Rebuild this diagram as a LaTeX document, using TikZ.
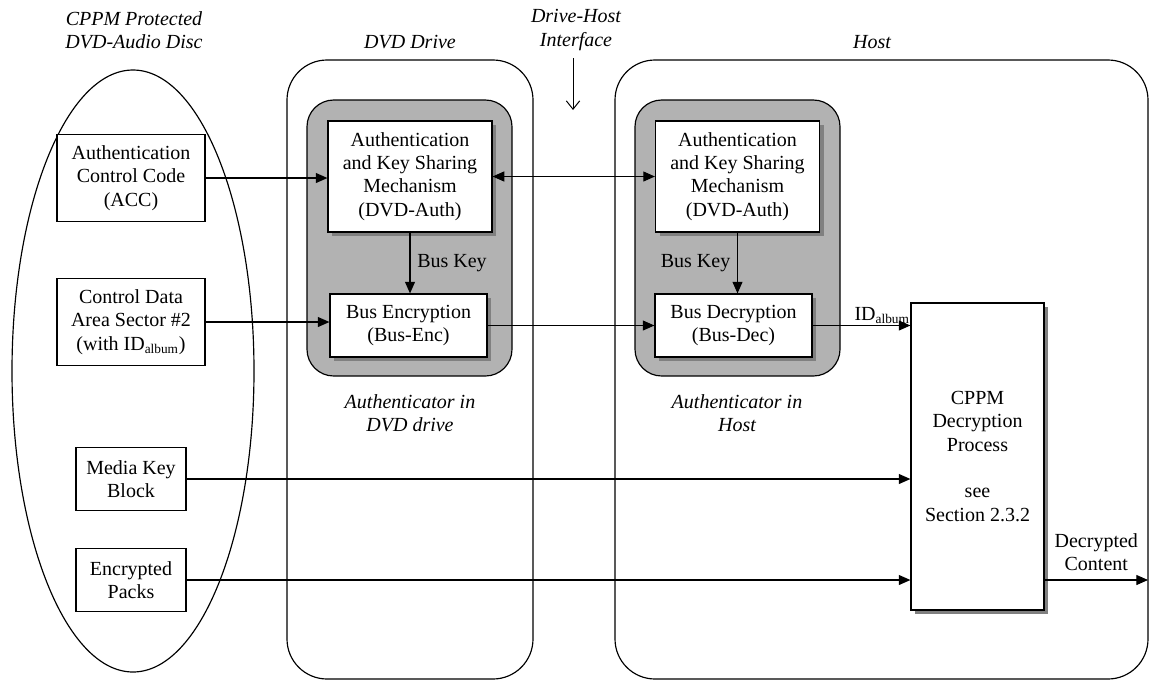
\documentclass[tikz,border=0pt]{standalone}
\usepackage{fontspec}
\setmainfont{Liberation Serif}
\usetikzlibrary{shapes.geometric,arrows.meta,shadows}

\begin{document}
\begin{tikzpicture}[x=0.6pt, y=-0.6pt,
  every node/.style={font=\fontsize{12}{14}\selectfont, inner sep=0pt, align=center},
  heading/.style={font=\fontsize{12}{14}\selectfont\itshape},
  disc/.style={draw, line width=0.7pt, ellipse, minimum width=145.2pt, minimum height=361.2pt},
  zone/.style={draw, line width=0.7pt, rounded corners=24pt, minimum height=371.4pt},
  auth/.style={draw, line width=0.7pt, fill=gray!60, rounded corners=16pt, minimum width=123pt, minimum height=165.6pt},
  box/.style={draw, line width=0.7pt, fill=white},
  sbox/.style={box, drop shadow={shadow xshift=2.6pt, shadow yshift=-2.6pt, fill=black!50, opacity=1}},
  arr/.style={line width=0.7pt, -{Triangle[length=7pt, width=6pt]}},
  dbl/.style={line width=0.7pt, {Triangle[length=7pt, width=6pt]}-{Triangle[length=7pt, width=6pt]}},
  ifarr/.style={line width=0.6pt, -{Straight Barb[length=5pt, width=8pt]}}
]
\useasboundingbox (0,0) rectangle (1150,681);

\node[disc] (disc) at (133,371) {};
\node[heading] (disctitle) at (134,30) {CPPM Protected\\DVD-Audio Disc};
\node[zone, minimum width=147.6pt] (drive) at (410,369.5) {};
\node[heading] (drivetitle) at (410,42) {DVD Drive};
\node[zone, minimum width=319.8pt] (host) at (881.5,369.5) {};
\node[heading] (hosttitle) at (872,42) {Host};
\node[heading] (iftitle) at (576,30) {Drive-Host\\Interface};
\coordinate (iftop) at (573,58);
\coordinate (ifbot) at (573,110);

\node[auth] (drivegray) at (409.5,238) {};
\node[auth] (hostgray) at (737.5,238) {};
\node[sbox, minimum width=98.4pt, minimum height=66.6pt] (driveauth) at (410,176.5) {Authentication\\and Key Sharing\\Mechanism\\(DVD-Auth)};
\node[sbox, minimum width=98.4pt, minimum height=66.6pt] (hostauth) at (737.5,176.5) {Authentication\\and Key Sharing\\Mechanism\\(DVD-Auth)};
\node[sbox, minimum width=94.2pt, minimum height=37.8pt] (busenc) at (408.5,325.5) {Bus Encryption\\(Bus-Enc)};
\node[sbox, minimum width=94.2pt, minimum height=37.8pt] (busdec) at (733.5,325.5) {Bus Decryption\\(Bus-Dec)};
\node[heading] (drivelabel) at (410,413) {Authenticator in\\DVD drive};
\node[heading] (hostlabel) at (737,413) {Authenticator in\\Host};
\node[sbox, minimum width=79.8pt, minimum height=184.2pt] (cppm) at (977.5,456.5) {CPPM\\Decryption\\Process\\[14pt]see\\Section 2.3.2};

\node[box, minimum width=88.8pt, minimum height=52.2pt] (acc) at (131,178) {Authentication\\Control Code\\(ACC)};
\node[box, minimum width=88.8pt, minimum height=52.2pt] (ctrl) at (131,322) {Control Data\\Area Sector \#2\\(with ID\textsubscript{album})};
\node[box, minimum width=66pt, minimum height=37.8pt] (mkb) at (131,479) {Media Key\\Block};
\node[box, minimum width=66pt, minimum height=37.8pt] (packs) at (131,580) {Encrypted\\Packs};
\coordinate (out) at (1148,580);

\draw[arr] (acc.east) -- (acc.east -| driveauth.west);
\draw[dbl] (driveauth) -- (hostauth);
\draw[arr] (driveauth) -- node[right=4pt] (drivekey) {Bus Key} (driveauth |- busenc.north);
\draw[arr] (hostauth) -- node[left=4pt] (hostkey) {Bus Key} (hostauth |- busdec.north);
\draw[arr] (ctrl.east) -- (ctrl.east -| busenc.west);
\draw[arr] (busenc) -- (busdec);
\draw[arr] (busdec) -- node[pos=1, anchor=south east, yshift=1pt] (idalbum) {ID\textsubscript{album}} (busdec -| cppm.west);
\draw[arr] (mkb.east) -- (mkb.east -| cppm.west);
\draw[arr] (packs.east) -- (packs.east -| cppm.west);
\draw[arr] (cppm.east |- packs.east) -- node[above=5pt] (outlabel) {Decrypted\\Content} (out);
\draw[ifarr] (iftop) -- (ifbot);
\end{tikzpicture}
\end{document}
